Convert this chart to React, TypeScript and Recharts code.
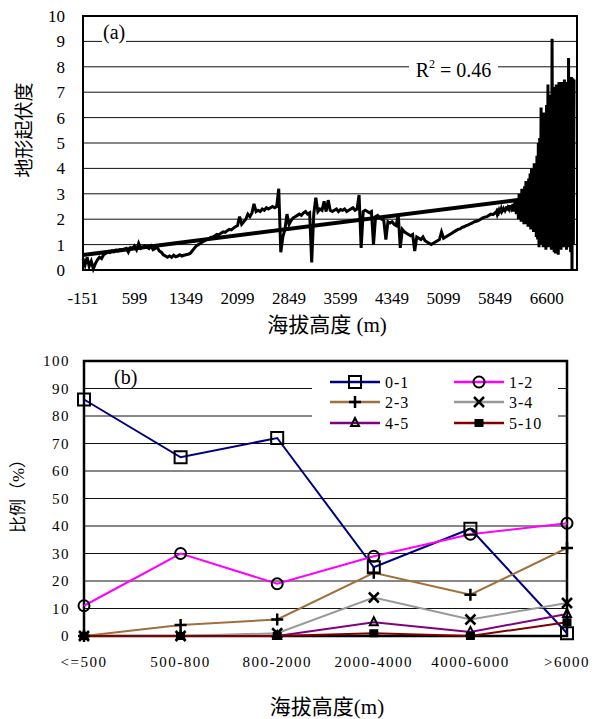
import React from "react";
import { LineChart, Line, XAxis, YAxis, CartesianGrid, ReferenceArea } from "recharts";

// (a) relief vs elevation, low part sampled every 30 m, noisy top part every 10 m
const lowStart = -151;
const lowStep = 30;
const reliefLow = [
  0.45, 0.2, 0.5, 0.15, 0.35, 0.05, 0.25, 0.4, 0.5, 0.45, 0.6,
  0.65, 0.7, 0.68, 0.75, 0.72, 0.78, 0.75, 0.8, 0.78, 0.82,
  0.85, 0.7, 0.88, 0.85, 0.95, 0.8, 1.05, 0.85, 0.9, 0.95,
  0.9, 0.85, 0.95, 0.8, 0.85, 0.9, 0.75, 0.7, 0.6, 0.55,
  0.5, 0.55, 0.5, 0.58, 0.52, 0.55, 0.6, 0.55, 0.58, 0.6,
  0.62, 0.65, 0.75, 0.85, 0.95, 1.0, 1.05, 1.1, 1.15, 1.2,
  1.22, 1.28, 1.3, 1.35, 1.4, 1.38, 1.45, 1.5, 1.48, 1.55,
  1.6, 1.58, 1.65, 1.7, 1.75, 2.1, 1.8, 1.9, 2.0, 2.2,
  2.1, 2.25, 2.6, 2.3, 2.35, 2.3, 2.4, 2.35, 2.45, 2.4,
  2.45, 2.5, 2.45, 2.5, 3.2, 0.7, 1.3, 1.6, 2.2, 1.8,
  1.95, 2.05, 2.1, 2.15, 2.2, 2.15, 2.25, 2.3, 2.2, 2.25,
  0.3, 2.2, 2.85, 2.3, 2.4, 2.35, 2.7, 2.3, 2.75, 2.35,
  2.3, 2.35, 2.4, 2.3, 2.38, 2.35, 2.4, 2.3, 2.35, 2.4, 2.45, 2.35, 2.4,
  2.95, 0.87, 2.3, 2.35, 2.3, 2.25, 2.3,
  1.0, 2.1, 2.15, 2.05, 2.0, 1.95,
  1.2, 1.9, 1.85, 1.9, 1.8, 1.75,
  2.2, 0.87, 1.6, 1.5, 1.45, 1.4, 1.35, 1.4,
  0.75, 1.3, 1.25, 1.2, 1.3, 1.15, 1.1, 1.05, 1.0, 1.05,
  1.1, 1.15, 1.2, 1.5, 1.25, 1.3, 1.35, 1.4, 1.45, 1.5,
  1.55, 1.6, 1.62, 1.68, 1.7, 1.75, 1.78, 1.82, 1.85, 1.9,
  1.92, 1.95, 2.0, 2.05, 2.08, 2.1, 2.15, 2.2, 2.18, 2.25,
];
const highStart = 5859;
const highStep = 10;
const reliefHigh = [
  2.25, 2.3, 2.2, 2.3, 2.25, 2.35, 2.28, 2.3, 2.4, 2.3, 2.35, 2.4, 2.3, 2.45, 2.35, 2.4,
  2.5, 2.35, 2.45, 2.4, 2.55, 2.35, 2.5, 2.4, 2.45, 2.6, 2.3, 2.5, 2.45, 2.7, 2.2, 2.6,
  2.8, 2.0, 3.0, 2.1, 2.9, 1.9, 3.2, 2.0, 3.1, 1.8, 3.3, 2.0, 3.5, 1.8, 3.2, 1.7,
  3.6, 1.9, 3.8, 1.6, 4.0, 1.7, 3.7, 1.5, 4.2, 1.6, 4.1, 1.3, 4.5,
  1.2, 5.0, 0.9, 5.2, 1.1, 6.4, 1.0, 5.6, 0.9, 6.2, 1.2, 6.0, 0.8, 6.5, 1.0, 7.3,
  0.9, 6.8, 1.1, 6.9, 0.8, 9.1, 1.0, 7.0, 0.7, 7.2, 0.65, 7.3, 0.9, 6.9, 0.6, 7.4,
  1.0, 7.1, 0.8, 7.4, 1.1, 7.3, 0.9, 7.5, 1.2, 7.2, 0.8, 7.4, 1.0, 8.35, 0.9, 7.5,
  0.7, 7.6, 0.0, 7.55, 1.0, 7.5,
];
const trendElev = [-151, 6999];
const trendRelief = [0.59, 3.04];
const elevTicks = [-151, 599, 1349, 2099, 2849, 3599, 4349, 5099, 5849, 6600];
const reliefTicks = [0, 1, 2, 3, 4, 5, 6, 7, 8, 9, 10];

// (b) share of each relief class per elevation band
const bands = ["<=500", "500-800", "800-2000", "2000-4000", "4000-6000", ">6000"];
const share01 = [86, 65, 72, 25, 39, 1];
const share12 = [11, 30, 19, 29, 37, 41];
const share23 = [0, 4, 6, 23, 15, 32];
const share34 = [0, 0, 1, 14, 6, 12];
const share45 = [0, 0, 0, 5, 1.5, 8];
const share510 = [0, 0, 0, 1, 0, 5];
const pctTicks = [0, 10, 20, 30, 40, 50, 60, 70, 80, 90, 100];

const reliefData = [
  ...reliefLow.map((v, i) => ({ elev: lowStart + i * lowStep, relief: v })),
  ...reliefHigh.map((v, i) => ({ elev: highStart + i * highStep, relief: v })),
];
const trendData = trendElev.map((e, i) => ({ elev: e, relief: trendRelief[i] }));

const series = [
  { key: "s01", name: "0-1", color: "#000080", shape: "square", values: share01 },
  { key: "s12", name: "1-2", color: "#FF00FF", shape: "circle", values: share12 },
  { key: "s23", name: "2-3", color: "#A0703C", shape: "plus", values: share23 },
  { key: "s34", name: "3-4", color: "#999999", shape: "cross", values: share34 },
  { key: "s45", name: "4-5", color: "#800080", shape: "triangle", values: share45 },
  { key: "s510", name: "5-10", color: "#800000", shape: "solid", values: share510 },
];

const bandData = bands.map((b, i) => {
  const row: Record<string, string | number> = { band: b };
  series.forEach((s) => (row[s.key] = s.values[i]));
  return row;
});

const serif = "'Liberation Serif', 'DejaVu Serif', serif";
const cjk = "'Liberation Serif', 'Noto Sans CJK SC', serif";

function Marker({ shape, cx, cy }: { shape: string; cx: number; cy: number }) {
  const open = { stroke: "#000", strokeWidth: 2, fill: "none" };
  switch (shape) {
    case "square":
      return <rect x={cx - 6} y={cy - 6} width={12} height={12} {...open} />;
    case "circle":
      return <circle cx={cx} cy={cy} r={5.5} {...open} />;
    case "plus":
      return <path d={`M${cx - 6},${cy}H${cx + 6}M${cx},${cy - 6}V${cy + 6}`} stroke="#000" strokeWidth={2.5} />;
    case "cross":
      return (
        <path
          d={`M${cx - 5},${cy - 5}L${cx + 5},${cy + 5}M${cx + 5},${cy - 5}L${cx - 5},${cy + 5}`}
          stroke="#000"
          strokeWidth={2.5}
        />
      );
    case "triangle":
      return <path d={`M${cx},${cy - 5}L${cx + 4},${cy + 3}L${cx - 4},${cy + 3}Z`} {...open} />;
    default:
      return <rect x={cx - 4.5} y={cy - 4} width={9} height={8} fill="#000" />;
  }
}

const dotFor = (shape: string, key: string) => (props: any) =>
  <Marker key={`${key}-${props.index}`} shape={shape} cx={props.cx} cy={props.cy} />;

function BandLegend() {
  const cols = [18, 142];
  const rows = [18, 38, 59];
  return (
    <svg width={246} height={70} style={{ position: "absolute", left: 312, top: 364, background: "#fff" }}>
      {series.map((s, i) => {
        const x = cols[i % 2];
        const y = rows[Math.floor(i / 2)];
        return (
          <g key={s.key}>
            <line x1={x} x2={x + 50} y1={y} y2={y} stroke={s.color} strokeWidth={2.5} />
            <Marker shape={s.shape} cx={x + 25} cy={y} />
            <text x={x + 55} y={y + 6} fontSize={16} fontFamily={serif} letterSpacing={1}>
              {s.name}
            </text>
          </g>
        );
      })}
    </svg>
  );
}

const abs = (style: React.CSSProperties): React.CSSProperties => ({ position: "absolute", whiteSpace: "nowrap", ...style });

export default function App() {
  return (
    <div style={{ position: "absolute", left: 0, top: 0, width: 595, height: 719, background: "#fff", fontFamily: serif }}>
      <div style={abs({ left: 0, top: 0 })}>
        <LineChart width={595} height={340} margin={{ top: 16, right: 18, left: 23, bottom: 40 }}>
          <CartesianGrid vertical={false} stroke="#111" strokeWidth={1} />
          <XAxis
            type="number"
            dataKey="elev"
            domain={[-151, 7042]}
            ticks={elevTicks}
            interval={0}
            height={30}
            axisLine={false}
            tickLine={false}
            tickSize={0}
            tickMargin={22}
            tick={{ fontSize: 17, fill: "#000", fontFamily: serif }}
          />
          <YAxis
            type="number"
            domain={[0, 10]}
            ticks={reliefTicks}
            width={60}
            axisLine={false}
            tickLine={false}
            tickSize={0}
            tickMargin={18}
            tick={{ fontSize: 17, fill: "#000", fontFamily: serif }}
          />
          <Line data={reliefData} dataKey="relief" stroke="#000" strokeWidth={3} dot={false} activeDot={false} isAnimationActive={false} />
          <Line data={trendData} dataKey="relief" stroke="#000" strokeWidth={4} dot={false} activeDot={false} isAnimationActive={false} />
          <ReferenceArea x1={-151} x2={7042} y1={0} y2={10} fill="none" stroke="#000" strokeWidth={2} />
        </LineChart>
      </div>
      <div style={abs({ left: 102, top: 21, fontSize: 20, lineHeight: "22px", background: "#fff", padding: "0 1px" })}>(a)</div>
      <div style={abs({ left: 409, top: 59, width: 89, textAlign: "center", fontSize: 20, lineHeight: "22px", background: "#fff" })}>
        R<sup style={{ fontSize: 12, verticalAlign: "top", lineHeight: "12px", position: "relative", top: -1 }}>2</sup> = 0.46
      </div>
      <div style={abs({ left: 22, top: 130, fontSize: 19, fontFamily: cjk, transform: "translate(-50%, -50%) rotate(-90deg)" })}>地形起伏度</div>
      <div style={abs({ left: 327, top: 323, fontSize: 21, fontFamily: cjk, transform: "translate(-50%, -50%)" })}>海拔高度 (m)</div>

      <div style={abs({ left: 0, top: 340 })}>
        <LineChart width={595} height={379} data={bandData} margin={{ top: 21, right: 28, left: 24, bottom: 53 }}>
          <CartesianGrid vertical={false} stroke="#111" strokeWidth={1} />
          <XAxis
            dataKey="band"
            interval={0}
            height={30}
            axisLine={false}
            tickLine={false}
            tickSize={0}
            tickMargin={20}
            tick={{ fontSize: 15, fill: "#000", fontFamily: serif, letterSpacing: 1.5 }}
          />
          <YAxis
            type="number"
            domain={[0, 100]}
            ticks={pctTicks}
            width={60}
            axisLine={false}
            tickLine={false}
            tickSize={0}
            tickMargin={14}
            tick={{ fontSize: 15, fill: "#000", fontFamily: serif, letterSpacing: 1.5 }}
          />
          <ReferenceArea x1={bands[0]} x2={bands[bands.length - 1]} y1={0} y2={100} fill="none" stroke="#000" strokeWidth={2.5} />
          {series.map((s) => (
            <Line
              key={s.key}
              dataKey={s.key}
              name={s.name}
              stroke={s.color}
              strokeWidth={2}
              dot={dotFor(s.shape, s.key)}
              activeDot={false}
              isAnimationActive={false}
            />
          ))}
        </LineChart>
      </div>
      <BandLegend />
      <div style={abs({ left: 113, top: 366, fontSize: 20, lineHeight: "22px", background: "#fff", padding: "0 1px" })}>(b)</div>
      <div style={abs({ left: 16, top: 492, fontSize: 17, fontFamily: cjk, transform: "translate(-50%, -50%) rotate(-90deg)" })}>比例（%）</div>
      <div style={abs({ left: 327, top: 705, fontSize: 21, fontFamily: cjk, transform: "translate(-50%, -50%)" })}>海拔高度(m)</div>
    </div>
  );
}
